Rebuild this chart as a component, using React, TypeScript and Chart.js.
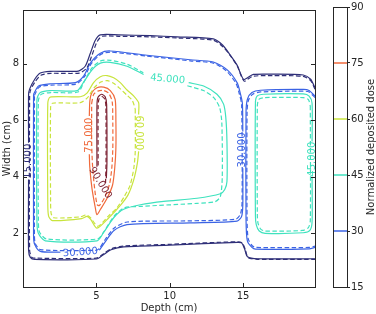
import React, { useEffect, useRef } from 'react';
import { Chart, registerables } from 'chart.js';

Chart.register(...registerables);

// ---------- data ----------
const levels = [15, 30, 45, 60, 75, 90];
const levelColors = ['#2f2f78', '#3b63e4', '#3fe2be', '#c8e43c', '#f06a3c', '#7a1f30'];
const xTicks = [5, 10, 15];
const yTicks = [2, 4, 6, 8];
const cbTicks = [15, 30, 45, 60, 75, 90];

type P = [number, number] | null;

// level 15 (open contour, ends on the right edge)
const c15Solid: P[] = [
  [19.9, 7.15], [19.6, 7.45], [19.1, 7.6], [17.0, 7.63], [15.7, 7.62], [15.3, 7.5], [15.04, 7.44],
  [14.85, 7.62], [14.59, 7.95], [14.13, 8.3], [13.6, 8.66], [12.97, 8.88], [10.5, 8.95], [8.68, 8.99],
  [6.5, 9.02], [5.27, 9.02], [4.93, 8.83], [4.59, 8.37], [4.25, 7.92], [3.77, 7.74], [1.86, 7.73],
  [1.18, 7.67], [0.8, 7.45], [0.45, 7.1], [0.38, 6.9], [0.38, 5.2], null, [0.38, 3.9], [0.38, 1.4],
  [0.5, 1.15], [0.8, 1.08], [5.0, 1.09], [5.5, 1.25], [6.0, 1.42], [6.86, 1.52], [10.0, 1.58],
  [14.6, 1.68], [14.9, 1.66], [15.1, 1.45], [15.3, 1.17], [16.0, 1.1], [19.9, 1.1],
];
const c15Dashed: P[] = [
  [19.9, 7.1], [19.6, 7.4], [19.1, 7.55], [17.0, 7.58], [15.7, 7.56], [15.3, 7.45], [15.08, 7.38],
  [14.88, 7.56], [14.62, 7.9], [14.18, 8.25], [13.62, 8.6], [12.97, 8.83], [10.5, 8.91], [8.68, 8.95],
  [6.5, 8.97], [5.4, 8.97], [5.05, 8.78], [4.7, 8.3], [4.35, 7.85], [3.85, 7.67], [1.9, 7.66],
  [1.25, 7.6], [0.85, 7.38], [0.5, 7.05], [0.45, 6.8], [0.45, 1.4], [0.6, 1.15], [0.9, 1.12],
  [5.0, 1.12], [5.5, 1.28], [6.0, 1.45], [6.9, 1.55], [10.0, 1.61], [14.6, 1.7], [14.95, 1.66],
  [15.15, 1.42], [15.35, 1.14], [16.0, 1.08], [19.9, 1.08],
];

// level 30, left region
const c30LSolid: P[] = [
  [0.72, 6.92], [1.06, 7.21], [1.86, 7.29], [3.57, 7.33], [4.13, 7.56], [4.59, 8.02], [5.27, 8.37],
  [5.95, 8.45], [8.45, 8.3], [11.4, 8.14], [12.97, 8.06], [13.9, 7.79], [14.59, 7.33], [14.81, 6.95],
  [14.95, 6.6], [14.98, 5.6], null, [14.98, 4.3], [14.98, 3.0], [14.9, 2.6], [14.59, 2.43],
  [11.4, 2.37], [7.09, 2.31], [6.2, 2.1], [5.6, 1.7], [5.2, 1.4], null, [2.55, 1.33], [1.18, 1.36],
  [0.8, 1.6], [0.72, 1.9], [0.72, 6.92],
];
const c30LDashed: P[] = [
  [0.78, 6.88], [1.1, 7.17], [1.9, 7.24], [3.6, 7.28], [4.2, 7.55], [4.65, 8.0], [5.3, 8.33],
  [5.95, 8.41], [8.45, 8.27], [11.4, 8.1], [12.97, 8.02], [13.85, 7.75], [14.52, 7.3], [14.75, 6.92],
  [14.9, 6.55], [14.93, 3.1], [14.82, 2.68], [14.5, 2.5], [11.4, 2.44], [7.1, 2.4], [6.2, 2.18],
  [5.6, 1.78], [5.2, 1.46], [5.0, 1.4], [1.2, 1.42], [0.85, 1.62], [0.78, 1.9], [0.78, 6.88],
];
// level 30, right region (open, ends on the right edge)
const c30RSolid: P[] = [
  [19.9, 6.85], [19.5, 7.05], [19.11, 7.09], [16.18, 7.06], [15.6, 6.98], [15.3, 6.75], [15.2, 6.3],
  [15.2, 2.5], [15.29, 1.73], [15.6, 1.5], [15.84, 1.44], [19.5, 1.45], [19.9, 1.5],
];
const c30RDashed: P[] = [
  [19.9, 6.8], [19.5, 7.0], [19.11, 7.03], [16.2, 7.0], [15.65, 6.92], [15.36, 6.7], [15.27, 6.3],
  [15.27, 2.5], [15.35, 1.8], [15.62, 1.56], [15.86, 1.5], [19.5, 1.5], [19.9, 1.55],
];

// level 45, left region
const c45LSolid: P[] = [
  [11.29, 7.33], [12.31, 7.21], [13.22, 6.92], [13.67, 6.57], [13.82, 6.1], [13.9, 5.23], [13.9, 3.83],
  [13.75, 3.55], [13.45, 3.4], [11.86, 3.24], [9.59, 3.13], [8.0, 3.01], [6.86, 2.85], [6.18, 2.55],
  [5.47, 2.01], [5.04, 1.73], [1.52, 1.73], [1.04, 2.01], [0.95, 2.43], [0.95, 6.74], [1.18, 6.98],
  [1.86, 7.05], [3.7, 7.05], [4.11, 7.33], [4.72, 7.79], [5.27, 8.02], [5.95, 8.05], [7.09, 7.91],
  [8.22, 7.62],
];
const c45LDashed: P[] = [
  [11.2, 7.22], [12.3, 7.05], [13.0, 6.8], [13.4, 6.45], [13.55, 5.9], [13.58, 4.0], [13.45, 3.3],
  [13.1, 3.12], [11.86, 3.06], [8.0, 2.95], [6.9, 2.9], [6.2, 2.6], [5.5, 2.05], [5.1, 1.8],
  [1.6, 1.8], [1.12, 2.05], [1.05, 2.45], [1.05, 6.7], [1.25, 6.92], [1.9, 6.98], [3.75, 7.0],
  [4.15, 7.35], [4.7, 7.85], [5.3, 8.1], [6.0, 8.12], [7.1, 7.98], [8.2, 7.68],
];
// level 45, right region
const c45RSolid: P[] = [
  [19.7, 4.0], [19.7, 2.4], [19.55, 2.1], [19.1, 2.02], [16.5, 2.0], [16.1, 2.08], [15.9, 2.3],
  [15.84, 2.6], [15.84, 6.6], [15.95, 6.85], [16.4, 6.92], [19.1, 6.93], [19.5, 6.85], [19.7, 6.6],
  [19.7, 5.25],
];
const c45RDashed: P[] = [
  [19.58, 6.5], [19.58, 2.45], [19.45, 2.2], [19.05, 2.1], [16.5, 2.08], [16.2, 2.15], [16.02, 2.35],
  [15.97, 2.65], [15.97, 6.5], [16.07, 6.74], [16.45, 6.8], [19.1, 6.8], [19.45, 6.73], [19.58, 6.5],
];

// level 60
const c60Solid: P[] = [
  [7.88, 4.9], [7.8, 4.5], [7.55, 3.9], [7.15, 3.35], [6.65, 3.0], [5.85, 2.55], [5.04, 2.18],
  [4.6, 2.5], [4.36, 2.6], [4.0, 2.52], [2.0, 2.45], [1.75, 2.6], [1.69, 3.0], [1.69, 6.6],
  [1.85, 6.82], [3.91, 6.83], [4.36, 6.96], [4.81, 7.33], [5.27, 7.54], [5.73, 7.58], [6.18, 7.5],
  [6.63, 7.33], [7.09, 7.07], [7.54, 6.86], [7.88, 6.62], [7.88, 6.2],
];
const c60Dashed: P[] = [
  [7.65, 6.4], [7.65, 4.9], [7.55, 4.3], [7.3, 3.7], [6.9, 3.3], [6.4, 2.9], [5.8, 2.6], [5.1, 2.25],
  [4.6, 2.55], [4.3, 2.65], [3.9, 2.58], [2.1, 2.55], [1.92, 2.7], [1.88, 3.1], [1.88, 6.45],
  [2.0, 6.6], [3.9, 6.62], [4.4, 6.8], [4.85, 7.15], [5.3, 7.35], [5.75, 7.4], [6.2, 7.3],
  [6.65, 7.1], [7.1, 6.88], [7.45, 6.7], [7.65, 6.4],
];

// level 75
const c75Solid: P[] = [
  [4.52, 6.15], [4.56, 6.7], [4.7, 6.98], [5.04, 7.15], [5.5, 7.17], [5.95, 7.05], [6.28, 6.74],
  [6.33, 6.0], [6.33, 5.0], [6.25, 4.3], [6.1, 3.7], [5.73, 3.24], [5.27, 2.84], [5.04, 2.66],
  [4.93, 2.9], [4.7, 3.59], [4.55, 4.35], [4.52, 4.8],
];
const c75Dashed: P[] = [
  [4.68, 6.6], [4.82, 6.92], [5.1, 7.03], [5.5, 7.05], [5.85, 6.95], [6.08, 6.65], [6.12, 5.9],
  [6.12, 5.0], [6.05, 4.3], [5.9, 3.75], [5.55, 3.25], [5.2, 2.98], [5.05, 3.02], [4.9, 3.5],
  [4.75, 4.3], [4.68, 5.2], [4.68, 6.6],
];

// level 90
const c90Solid: P[] = [
  [5.04, 4.35], [5.04, 6.5], [5.1, 6.8], [5.35, 6.92], [5.6, 6.83], [5.7, 6.55], [5.72, 4.5], [5.68, 3.95],
];
const c90Dashed: P[] = [
  [5.12, 4.4], [5.12, 6.5], [5.18, 6.75], [5.38, 6.84], [5.58, 6.74], [5.65, 6.5], [5.66, 4.5], [5.62, 3.7],
];

const contourPaths: P[][] = [
  c15Dashed, c15Solid, c30LDashed, c30LSolid, c30RDashed, c30RSolid, c45LDashed, c45LSolid,
  c45RDashed, c45RSolid, c60Dashed, c60Solid, c75Dashed, c75Solid, c90Dashed, c90Solid,
];
const contourLevel = [0, 0, 1, 1, 1, 1, 2, 2, 2, 2, 3, 3, 4, 4, 5, 5];
const contourDashed = [true, false, true, false, true, false, true, false, true, false, true, false, true, false, true, false];

// inline contour labels
const labelTexts = ['15.000', '30.000', '45.000', '60.000', '75.000', '90.000', '30.000', '45.000'];
const labelX = [0.38, 3.91, 9.85, 7.88, 4.5, 5.26, 14.98, 19.75];
const labelY = [4.55, 1.32, 7.45, 5.55, 5.47, 3.78, 4.95, 4.62];
const labelAngle = [-90, -4, 5, 90, -90, 59, -90, -90];
const labelLevel = [0, 1, 2, 3, 4, 5, 1, 2];

const FONT = '"DejaVu Sans", sans-serif';
const INK = '#262626';

export default function App() {
  const mainRef = useRef<HTMLCanvasElement>(null);
  const cbRef = useRef<HTMLCanvasElement>(null);

  useEffect(() => {
    const toXY = (p: P) => (p ? { x: p[0], y: p[1] } : { x: NaN, y: NaN });

    const mainPlugin = {
      id: 'mainDecor',
      afterDatasetsDraw(chart: any) {
        const { ctx, chartArea: a, scales } = chart;
        const xs = scales.x;
        const ys = scales.y;
        ctx.save();
        ctx.beginPath();
        ctx.rect(a.left, a.top, a.right - a.left, a.bottom - a.top);
        ctx.clip();
        ctx.font = '10px ' + FONT;
        ctx.textAlign = 'center';
        ctx.textBaseline = 'middle';
        labelTexts.forEach((t, i) => {
          ctx.save();
          ctx.translate(xs.getPixelForValue(labelX[i]), ys.getPixelForValue(labelY[i]));
          ctx.rotate((labelAngle[i] * Math.PI) / 180);
          ctx.fillStyle = levelColors[labelLevel[i]];
          ctx.fillText(t, 0, 0);
          ctx.restore();
        });
        ctx.restore();

        ctx.save();
        ctx.strokeStyle = INK;
        ctx.lineWidth = 1;
        ctx.strokeRect(Math.round(a.left) + 0.5, Math.round(a.top) + 0.5, Math.round(a.right - a.left), Math.round(a.bottom - a.top));
        ctx.beginPath();
        xTicks.forEach((v) => {
          const px = Math.round(xs.getPixelForValue(v)) + 0.5;
          ctx.moveTo(px, a.bottom);
          ctx.lineTo(px, a.bottom - 4);
          ctx.moveTo(px, a.top);
          ctx.lineTo(px, a.top + 4);
        });
        yTicks.forEach((v) => {
          const py = Math.round(ys.getPixelForValue(v)) + 0.5;
          ctx.moveTo(a.left, py);
          ctx.lineTo(a.left + 4, py);
          ctx.moveTo(a.right, py);
          ctx.lineTo(a.right - 4, py);
        });
        ctx.stroke();
        ctx.restore();
      },
    };

    const main = new Chart(mainRef.current!, {
      type: 'scatter',
      data: {
        datasets: contourPaths.map((path, i) => ({
          data: path.map(toXY),
          showLine: true,
          spanGaps: false,
          pointRadius: 0,
          borderWidth: 1.2,
          borderColor: levelColors[contourLevel[i]],
          borderDash: contourDashed[i] ? [4.5, 2.5] : [],
          tension: 0.25,
          fill: false,
        })),
      },
      options: {
        animation: false,
        responsive: false,
        devicePixelRatio: 1,
        layout: { padding: { left: 0, top: 6, right: 61, bottom: 0 } },
        plugins: { legend: { display: false }, tooltip: { enabled: false } },
        scales: {
          x: {
            type: 'linear',
            min: 0,
            max: 19.9,
            afterBuildTicks: (s: any) => { s.ticks = xTicks.map((v) => ({ value: v })); },
            afterFit: (s: any) => { s.height = 27; },
            grid: { display: false, drawTicks: false },
            border: { display: false },
            ticks: { padding: 3, color: INK, font: { size: 10, family: FONT } },
            title: { display: true, text: 'Depth (cm)', color: INK, font: { size: 10, family: FONT }, padding: { top: 0, bottom: 0 } },
          },
          y: {
            type: 'linear',
            min: 0.1,
            max: 9.9,
            afterBuildTicks: (s: any) => { s.ticks = yTicks.map((v) => ({ value: v })); },
            afterFit: (s: any) => { s.width = 23; },
            grid: { display: false, drawTicks: false },
            border: { display: false },
            ticks: { padding: 4, color: INK, font: { size: 10, family: FONT } },
            title: { display: true, text: 'Width (cm)', color: INK, font: { size: 10, family: FONT }, padding: { top: 1, bottom: 0 } },
          },
        },
      },
      plugins: [mainPlugin],
    } as any);

    const cbPlugin = {
      id: 'cbDecor',
      afterDraw(chart: any) {
        const { ctx, chartArea: a } = chart;
        ctx.save();
        ctx.strokeStyle = INK;
        ctx.lineWidth = 1;
        ctx.strokeRect(Math.round(a.left) + 0.5, Math.round(a.top) + 0.5, Math.round(a.right - a.left), Math.round(a.bottom - a.top));
        ctx.translate(371, (a.top + a.bottom) / 2);
        ctx.rotate(-Math.PI / 2);
        ctx.font = '10px ' + FONT;
        ctx.fillStyle = INK;
        ctx.textAlign = 'center';
        ctx.textBaseline = 'middle';
        ctx.fillText('Normalized deposited dose', 0, 0);
        ctx.restore();
      },
    };

    const inner = levels.map((lv, i) => ({ lv, i })).filter((d) => d.lv > levels[0] && d.lv < levels[levels.length - 1]);

    const cb = new Chart(cbRef.current!, {
      type: 'scatter',
      data: {
        datasets: inner.map(({ lv, i }) => ({
          data: [{ x: 0, y: lv }, { x: 1, y: lv }],
          showLine: true,
          pointRadius: 0,
          borderWidth: 1.5,
          borderColor: levelColors[i],
        })),
      },
      options: {
        animation: false,
        responsive: false,
        devicePixelRatio: 1,
        layout: { padding: { left: 333, top: 6, right: 0, bottom: 27 } },
        plugins: { legend: { display: false }, tooltip: { enabled: false } },
        scales: {
          x: { type: 'linear', min: 0, max: 1, display: false },
          y: {
            type: 'linear',
            position: 'right',
            min: 15,
            max: 90,
            afterBuildTicks: (s: any) => { s.ticks = cbTicks.map((v) => ({ value: v })); },
            afterFit: (s: any) => { s.width = 29; },
            grid: { drawOnChartArea: false, drawTicks: true, tickLength: 3, color: INK },
            border: { display: false },
            ticks: { padding: 1, color: INK, font: { size: 10, family: FONT } },
          },
        },
      },
      plugins: [cbPlugin],
    } as any);

    return () => {
      main.destroy();
      cb.destroy();
    };
  }, []);

  return (
    <div style={{ position: 'absolute', left: 0, top: 0, width: 376, height: 314, background: '#fff' }}>
      <canvas ref={mainRef} width={376} height={314} style={{ position: 'absolute', left: 0, top: 0 }} />
      <canvas ref={cbRef} width={376} height={314} style={{ position: 'absolute', left: 0, top: 0 }} />
    </div>
  );
}
